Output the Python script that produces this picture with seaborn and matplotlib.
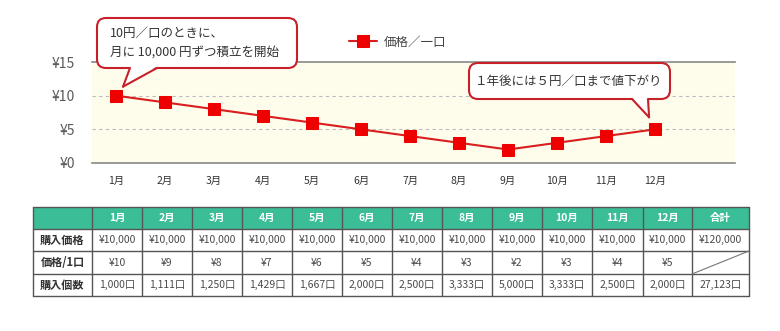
import matplotlib
matplotlib.use("Agg")
import matplotlib.pyplot as plt
import seaborn as sns
import pandas as pd
from matplotlib.patches import FancyBboxPatch, Polygon, Rectangle
from matplotlib.lines import Line2D

months = ["1月", "2月", "3月", "4月", "5月", "6月", "7月", "8月", "9月", "10月", "11月", "12月"]
prices = [10, 9, 8, 7, 6, 5, 4, 3, 2, 3, 4, 5]
y_ticks = [0, 5, 10, 15]
y_tick_labels = ["¥0", "¥5", "¥10", "¥15"]
series_name = "価格／一口"

row_labels = ["購入価格", "価格/1口", "購入個数"]
total_label = "合計"
purchase_amounts = ["¥10,000"] * 12
purchase_total = "¥120,000"
unit_prices = ["¥10", "¥9", "¥8", "¥7", "¥6", "¥5", "¥4", "¥3", "¥2", "¥3", "¥4", "¥5"]
units = ["1,000口", "1,111口", "1,250口", "1,429口", "1,667口", "2,000口",
         "2,500口", "3,333口", "5,000口", "3,333口", "2,500口", "2,000口"]
units_total = "27,123口"

note_start = "10円／口のときに、\n月に 10,000 円ずつ積立を開始"
note_end = "１年後には５円／口まで値下がり"

sns.set_theme(style="white")
plt.rcParams["font.family"] = ["Noto Sans CJK JP", "DejaVu Sans"]

W, H = 780, 331
fig = plt.figure(figsize=(W / 100, H / 100), dpi=100)
fig.patch.set_facecolor("white")

# main chart axes
L, R, T, B = 92, 735, 62, 163
ax = fig.add_axes([L / W, 1 - B / H, (R - L) / W, (B - T) / H])
ax.set_facecolor("#FEFDEC")

df = pd.DataFrame({"idx": range(len(months)), "price": prices})
sns.lineplot(data=df, x="idx", y="price", ax=ax, color="#D81E1E", linewidth=1.5,
             marker="s", markersize=9, markerfacecolor="#EE0000",
             markeredgecolor="#EE0000", label=series_name, zorder=5, clip_on=False)

ax.set_xlim(-0.49, 12.63)
ax.set_ylim(0, 15)
ax.set_yticks(y_ticks)
ax.set_yticklabels(y_tick_labels, fontsize=10, color="#5A5A5A")
ax.set_xticks(range(len(months)))
ax.set_xticklabels(months, fontsize=7.5, color="#333333")
ax.tick_params(axis="x", length=0, pad=9)
ax.tick_params(axis="y", length=0, pad=12)
ax.set_xlabel("")
ax.set_ylabel("")
for s in ["left", "right"]:
    ax.spines[s].set_visible(False)
for s in ["top", "bottom"]:
    ax.spines[s].set_color("#888888")
    ax.spines[s].set_linewidth(1.2)
for yv in [5, 10]:
    ax.axhline(yv, color="#BBBBBB", linestyle=(0, (3, 3)), linewidth=0.8, zorder=1)

ax.legend(loc="center left", bbox_to_anchor=(343 / W, 1 - 42 / H),
          bbox_transform=fig.transFigure, frameon=False, fontsize=9,
          handlelength=2.2, handletextpad=0.6, borderpad=0)
for t in ax.get_legend().get_texts():
    t.set_color("#444444")

# overlay in pixel coordinates
ov = fig.add_axes([0, 0, 1, 1], zorder=10)
ov.set_xlim(0, W)
ov.set_ylim(H, 0)
ov.axis("off")
ov.patch.set_alpha(0)

def to_px(x, y):
    dx, dy = ax.transData.transform((x, y))
    px, py = ov.transData.inverted().transform((dx, dy))
    return px, py

def callout(x0, y0, x1, y1, base_a, base_b, tip, text, tx, ty, ha):
    box = FancyBboxPatch((x0, y0), x1 - x0, y1 - y0,
                         boxstyle="round,pad=0,rounding_size=9",
                         facecolor="white", edgecolor="#C8202A", linewidth=1.5, zorder=2)
    ov.add_patch(box)
    poly = Polygon([(base_a, y1 - 1.5), (base_b, y1 - 1.5), tip], closed=True,
                   facecolor="white", edgecolor="none", zorder=3)
    ov.add_patch(poly)
    ov.add_line(Line2D([base_a, tip[0]], [y1, tip[1]], color="#C8202A", linewidth=1.5, zorder=4))
    ov.add_line(Line2D([base_b, tip[0]], [y1, tip[1]], color="#C8202A", linewidth=1.5, zorder=4))
    ov.text(tx, ty, text, ha=ha, va="center", fontsize=9, color="#333333",
            linespacing=1.55, zorder=5)

p1 = to_px(0, prices[0])
callout(97, 18, 297, 68, 130, 157, (p1[0] + 7, p1[1] - 9), note_start, 110, 43, "left")
p12 = to_px(11, prices[11])
callout(469, 63, 670, 99, 632, 648, (p12[0] - 6, p12[1] - 12), note_end, 569, 81, "center")

# table
col_edges = [33, 92, 142, 192, 242, 292, 342, 392, 442, 492, 542, 592, 643, 692, 749]
row_edges = [207, 229, 251, 274, 296]
header_color = "#3BBE97"
ov.add_patch(Rectangle((col_edges[0], row_edges[0]), col_edges[-1] - col_edges[0],
                       row_edges[1] - row_edges[0], facecolor=header_color,
                       edgecolor="none", zorder=1))
rows = [
    [row_labels[0]] + purchase_amounts + [purchase_total],
    [row_labels[1]] + unit_prices + [""],
    [row_labels[2]] + units + [units_total],
]
header = [""] + months + [total_label]
for c in range(len(col_edges) - 1):
    cx = (col_edges[c] + col_edges[c + 1]) / 2
    ov.text(cx, (row_edges[0] + row_edges[1]) / 2, header[c], ha="center", va="center",
            fontsize=7.5, color="white", fontweight="bold", zorder=3)
    for r in range(3):
        cy = (row_edges[r + 1] + row_edges[r + 2]) / 2
        if c == 0:
            ov.text(cx, cy, rows[r][c], ha="center", va="center", fontsize=8,
                    color="#333333", fontweight="bold", zorder=3)
        else:
            ov.text(cx, cy, rows[r][c], ha="center", va="center", fontsize=7.5,
                    color="#4A4A4A", zorder=3)
lc = "#555555"
for x in col_edges:
    ov.add_line(Line2D([x, x], [row_edges[0], row_edges[-1]], color=lc, linewidth=1.0, zorder=2))
for y in row_edges:
    ov.add_line(Line2D([col_edges[0], col_edges[-1]], [y, y], color=lc, linewidth=1.0, zorder=2))
ov.add_line(Line2D([col_edges[-2], col_edges[-1]], [row_edges[3], row_edges[2]],
                   color="#777777", linewidth=0.8, zorder=2))

fig.savefig("out.png", dpi=100, facecolor="white")
